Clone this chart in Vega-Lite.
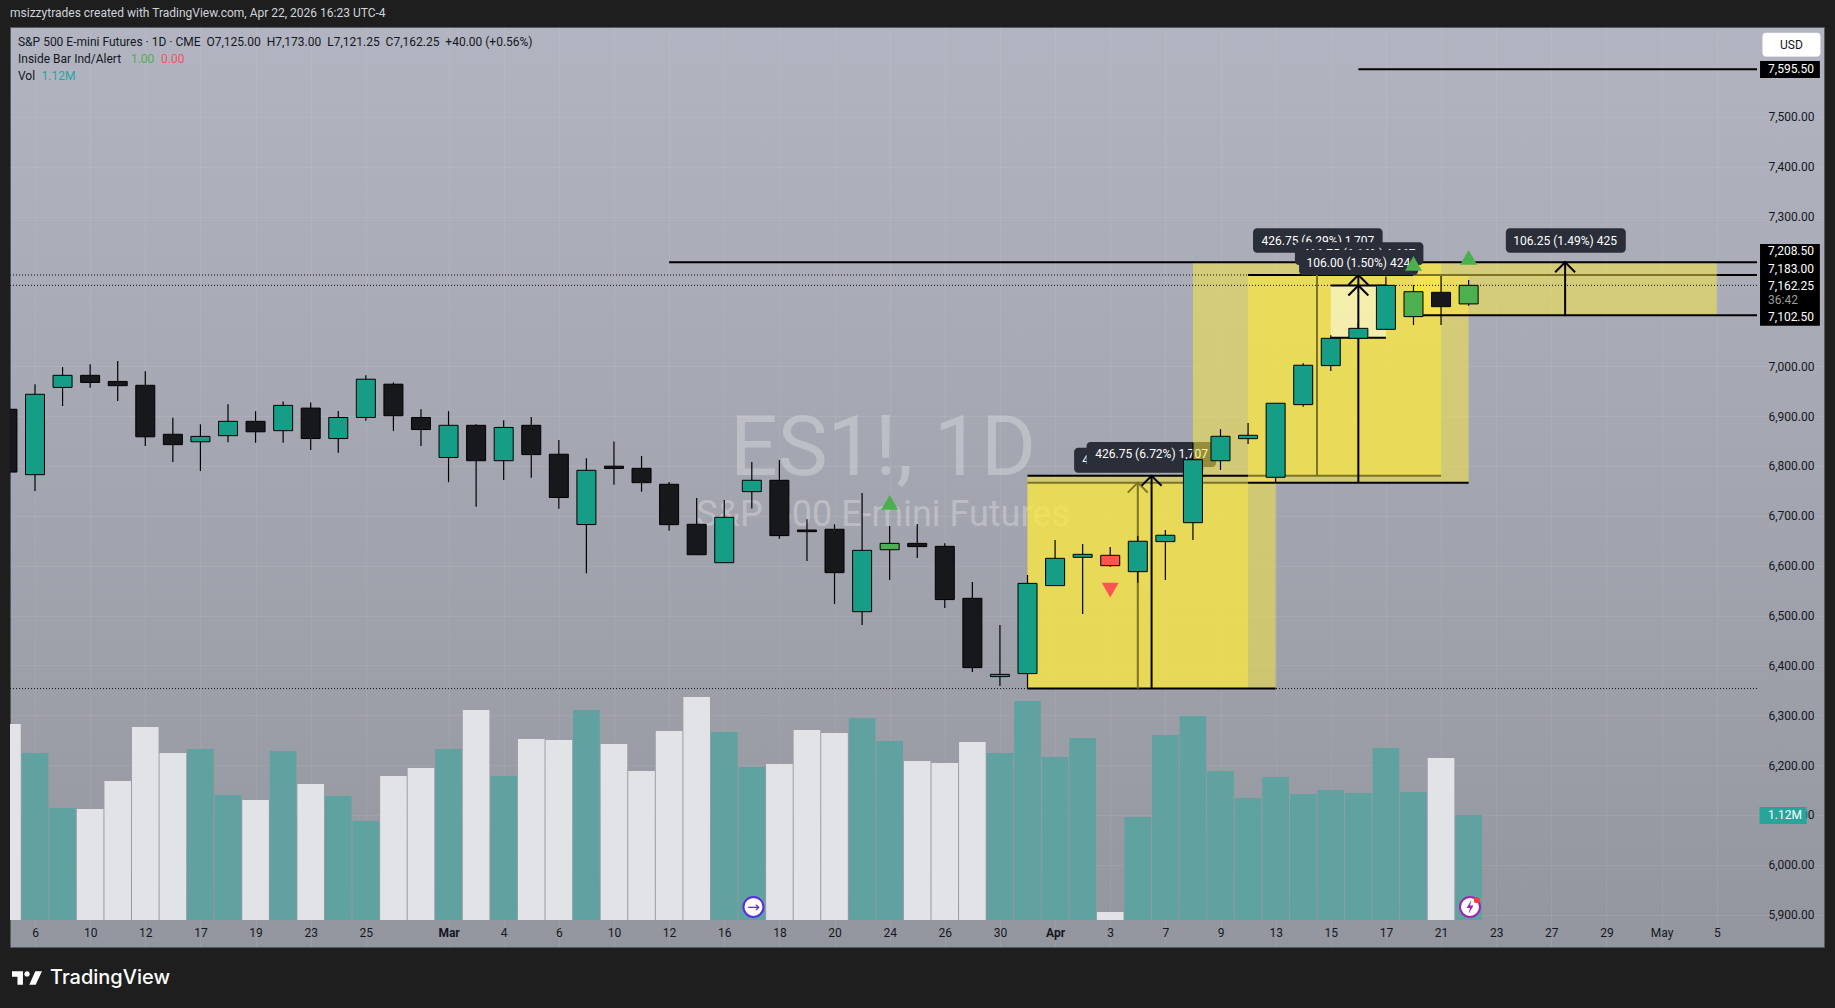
{
  "$schema": "https://vega.github.io/schema/vega-lite/v6.json",
  "description": "S&P 500 E-mini Futures daily candles with volume and measure boxes",
  "width": 1814,
  "height": 920,
  "autosize": {"type": "none"},
  "padding": {"left": 10, "top": 27, "right": 11, "bottom": 61},
  "background": "#1e1e1e",
  "title": {"text": "msizzytrades created with TradingView.com, Apr 22, 2026 16:23 UTC-4", "anchor": "start", "frame": "group", "offset": 7, "fontSize": 12, "font": "Roboto", "fontWeight": "normal", "color": "#d1d4dc"},
  "config": {
    "font": "Roboto",
    "view": {"stroke": "#5a5a5e", "fill": {"gradient": "linear", "x1": 0, "y1": 0, "x2": 0, "y2": 1, "stops": [{"offset": 0, "color": "#b2b5c1"}, {"offset": 1, "color": "#94969f"}]}},
    "text": {"fontSize": 12, "font": "Roboto"}
  },
  "datasets": {
    "bars": [
      {"d": "Feb 5", "i": -1, "o": 6913.75, "h": 6913.75, "l": 6787.75, "c": 6787.75, "tone": "down", "vol": 1.747},
      {"d": "Feb 6", "i": 0, "o": 6782.5, "h": 6964, "l": 6749.75, "c": 6943.75, "tone": "up", "vol": 1.547},
      {"d": "Feb 9", "i": 1, "o": 6957.5, "h": 6998.25, "l": 6920.25, "c": 6981.75, "tone": "up", "vol": 1.168},
      {"d": "Feb 10", "i": 2, "o": 6981.75, "h": 7004, "l": 6956.75, "c": 6967.5, "tone": "down", "vol": 1.161},
      {"d": "Feb 11", "i": 3, "o": 6969.5, "h": 7010.5, "l": 6930.25, "c": 6961, "tone": "down", "vol": 1.354},
      {"d": "Feb 12", "i": 4, "o": 6961.75, "h": 6989.75, "l": 6840, "c": 6858.5, "tone": "down", "vol": 1.727},
      {"d": "Feb 13", "i": 5, "o": 6863.5, "h": 6896.5, "l": 6807.75, "c": 6842.75, "tone": "down", "vol": 1.547},
      {"d": "Feb 17", "i": 6, "o": 6848.5, "h": 6883.5, "l": 6789.75, "c": 6859.25, "tone": "up", "vol": 1.575},
      {"d": "Feb 18", "i": 7, "o": 6860.75, "h": 6923.75, "l": 6847.75, "c": 6889.5, "tone": "up", "vol": 1.258},
      {"d": "Feb 19", "i": 8, "o": 6889.5, "h": 6910, "l": 6846.5, "c": 6868.5, "tone": "down", "vol": 1.223},
      {"d": "Feb 20", "i": 9, "o": 6870.75, "h": 6929.5, "l": 6846.5, "c": 6921.5, "tone": "up", "vol": 1.561},
      {"d": "Feb 23", "i": 10, "o": 6916, "h": 6927.25, "l": 6832, "c": 6855, "tone": "down", "vol": 1.333},
      {"d": "Feb 24", "i": 11, "o": 6855, "h": 6910, "l": 6826.25, "c": 6897.25, "tone": "up", "vol": 1.251},
      {"d": "Feb 25", "i": 12, "o": 6897.25, "h": 6981.75, "l": 6890.75, "c": 6974, "tone": "up", "vol": 1.078},
      {"d": "Feb 26", "i": 13, "o": 6964, "h": 6967.5, "l": 6870, "c": 6900.75, "tone": "down", "vol": 1.389},
      {"d": "Feb 27", "i": 14, "o": 6897.25, "h": 6913.75, "l": 6840, "c": 6873, "tone": "down", "vol": 1.444},
      {"d": "Mar 2", "i": 15, "o": 6817, "h": 6910, "l": 6767.5, "c": 6881.5, "tone": "up", "vol": 1.575},
      {"d": "Mar 3", "i": 16, "o": 6881.5, "h": 6883.5, "l": 6718.25, "c": 6810.5, "tone": "down", "vol": 1.844},
      {"d": "Mar 4", "i": 17, "o": 6810.5, "h": 6891.5, "l": 6772, "c": 6877.25, "tone": "up", "vol": 1.389},
      {"d": "Mar 5", "i": 18, "o": 6881.5, "h": 6898, "l": 6776.25, "c": 6822.75, "tone": "down", "vol": 1.644},
      {"d": "Mar 6", "i": 19, "o": 6823.5, "h": 6852, "l": 6714, "c": 6736.75, "tone": "down", "vol": 1.637},
      {"d": "Mar 9", "i": 20, "o": 6682.5, "h": 6815.5, "l": 6585, "c": 6791.25, "tone": "up", "vol": 1.844},
      {"d": "Mar 10", "i": 21, "o": 6799.5, "h": 6849.25, "l": 6762.25, "c": 6795, "tone": "down", "vol": 1.609},
      {"d": "Mar 11", "i": 22, "o": 6795.25, "h": 6820, "l": 6748.5, "c": 6766.5, "tone": "down", "vol": 1.423},
      {"d": "Mar 12", "i": 23, "o": 6763.25, "h": 6768, "l": 6670.25, "c": 6682.25, "tone": "down", "vol": 1.699},
      {"d": "Mar 13", "i": 24, "o": 6683, "h": 6735.75, "l": 6622, "c": 6622, "tone": "down", "vol": 1.934},
      {"d": "Mar 16", "i": 25, "o": 6606, "h": 6731.75, "l": 6606, "c": 6697, "tone": "up", "vol": 1.692},
      {"d": "Mar 17", "i": 26, "o": 6748.5, "h": 6808, "l": 6714.5, "c": 6771.25, "tone": "up", "vol": 1.451},
      {"d": "Mar 18", "i": 27, "o": 6771.25, "h": 6812, "l": 6654.25, "c": 6660.25, "tone": "down", "vol": 1.471},
      {"d": "Mar 19", "i": 28, "o": 6671.5, "h": 6693, "l": 6609.5, "c": 6668.25, "tone": "down", "vol": 1.706},
      {"d": "Mar 20", "i": 29, "o": 6673, "h": 6683, "l": 6523.25, "c": 6586, "tone": "down", "vol": 1.685},
      {"d": "Mar 23", "i": 30, "o": 6507.75, "h": 6745.75, "l": 6481, "c": 6630.75, "tone": "up", "vol": 1.789},
      {"d": "Mar 24", "i": 31, "o": 6632, "h": 6679.5, "l": 6571.25, "c": 6644.75, "tone": "insideUp", "vol": 1.63},
      {"d": "Mar 25", "i": 32, "o": 6644.75, "h": 6683.5, "l": 6615.5, "c": 6638.25, "tone": "down", "vol": 1.492},
      {"d": "Mar 26", "i": 33, "o": 6638.75, "h": 6644.75, "l": 6515.25, "c": 6532, "tone": "down", "vol": 1.478},
      {"d": "Mar 27", "i": 34, "o": 6534.5, "h": 6567.25, "l": 6386.75, "c": 6395.5, "tone": "down", "vol": 1.623},
      {"d": "Mar 30", "i": 35, "o": 6377.5, "h": 6481, "l": 6358.75, "c": 6382, "tone": "up", "vol": 1.547},
      {"d": "Mar 31", "i": 36, "o": 6383.5, "h": 6581.25, "l": 6353.5, "c": 6564.5, "tone": "up", "vol": 1.906},
      {"d": "Apr 1", "i": 37, "o": 6560, "h": 6651.5, "l": 6560, "c": 6614.75, "tone": "up", "vol": 1.52},
      {"d": "Apr 2", "i": 38, "o": 6616.75, "h": 6643.5, "l": 6503, "c": 6622.75, "tone": "up", "vol": 1.651},
      {"d": "Apr 3", "i": 39, "o": 6620.75, "h": 6637.5, "l": 6598, "c": 6600, "tone": "insideDown", "vol": 0.45},
      {"d": "Apr 6", "i": 40, "o": 6588, "h": 6659.5, "l": 6566, "c": 6649, "tone": "up", "vol": 1.106},
      {"d": "Apr 7", "i": 41, "o": 6648.25, "h": 6671.5, "l": 6571.25, "c": 6661, "tone": "up", "vol": 1.672},
      {"d": "Apr 8", "i": 42, "o": 6686.25, "h": 6846.75, "l": 6651.5, "c": 6812.5, "tone": "up", "vol": 1.803},
      {"d": "Apr 9", "i": 43, "o": 6810.5, "h": 6874, "l": 6792, "c": 6859.5, "tone": "up", "vol": 1.423},
      {"d": "Apr 10", "i": 44, "o": 6854.75, "h": 6886.25, "l": 6844, "c": 6861.5, "tone": "up", "vol": 1.237},
      {"d": "Apr 13", "i": 45, "o": 6777.25, "h": 6925.75, "l": 6766.5, "c": 6925.75, "tone": "up", "vol": 1.382},
      {"d": "Apr 14", "i": 46, "o": 6923, "h": 7006, "l": 6919, "c": 7002, "tone": "up", "vol": 1.264},
      {"d": "Apr 15", "i": 47, "o": 7001.25, "h": 7062, "l": 6990.5, "c": 7056, "tone": "up", "vol": 1.292},
      {"d": "Apr 16", "i": 48, "o": 7056, "h": 7086, "l": 7052.75, "c": 7076, "tone": "up", "vol": 1.271},
      {"d": "Apr 17", "i": 49, "o": 7074, "h": 7179.75, "l": 7074, "c": 7162.25, "tone": "up", "vol": 1.582},
      {"d": "Apr 20", "i": 50, "o": 7099.5, "h": 7163, "l": 7082.75, "c": 7149.5, "tone": "insideUp", "vol": 1.278},
      {"d": "Apr 21", "i": 51, "o": 7148.25, "h": 7181, "l": 7082.75, "c": 7119.5, "tone": "down", "vol": 1.513},
      {"d": "Apr 22", "i": 52, "o": 7125, "h": 7173, "l": 7121.25, "c": 7162.25, "tone": "insideUp", "vol": 1.12}
    ],
    "fills": [
      {"box": "A", "i": 36, "i2": 44, "p": 6353.5, "p2": 6766.5},
      {"box": "B", "i": 36, "i2": 45, "p": 6353.5, "p2": 6780.25},
      {"box": "C", "i": 42, "i2": 51, "p": 6780.25, "p2": 7208.5},
      {"box": "D", "i": 44, "i2": 52, "p": 6766.5, "p2": 7183},
      {"box": "F", "i": 50, "i2": 61, "p": 7102.5, "p2": 7208.5}
    ],
    "hlines": [
      {"i": 36, "i2": 44, "p": 6766.5, "state": "under"},
      {"i": 36, "i2": 44, "p": 6780.25, "state": "over"},
      {"i": 44, "i2": 51, "p": 6780.25, "state": "under"},
      {"i": 36, "i2": 45, "p": 6353.5, "state": "over"},
      {"i": 44, "i2": 52, "p": 6766.5, "state": "over"},
      {"i": 44, "i2": 50, "p": 7183, "state": "over"},
      {"i": 50, "i2": 61, "p": 7183, "state": "under"},
      {"i": 61, "i2": 62.46, "p": 7183, "state": "over"},
      {"i": 50, "i2": 62.46, "p": 7102.5, "state": "over"},
      {"i": 23, "i2": 62.46, "p": 7208.5, "state": "over"},
      {"i": 48, "i2": 62.46, "p": 7595.5, "state": "over"},
      {"i": 47, "i2": 49, "p": 7162, "state": "over"},
      {"i": 47, "i2": 49, "p": 7057, "state": "over"}
    ],
    "vlines": [
      {"i": 40, "p": 6353.5, "p2": 6766.5, "state": "under"},
      {"i": 40.5, "p": 6353.5, "p2": 6780.25, "state": "over"},
      {"i": 46.5, "p": 6780.25, "p2": 7208.5, "state": "under"},
      {"i": 48, "p": 6766.5, "p2": 7183, "state": "over"},
      {"i": 55.5, "p": 7102.5, "p2": 7208.5, "state": "over"}
    ],
    "tips": [
      {"i": 40, "p": 6766.5, "state": "under"},
      {"i": 40.5, "p": 6780.25, "state": "over"},
      {"i": 46.5, "p": 7208.5, "state": "under"},
      {"i": 48, "p": 7183, "state": "over"},
      {"i": 48, "p": 7162, "state": "over"},
      {"i": 55.5, "p": 7208.5, "state": "over"}
    ],
    "dotted": [
      {"i": -0.907, "i2": 62.46, "p": 7183},
      {"i": -0.907, "i2": 62.46, "p": 7162.25},
      {"i": -0.907, "i2": 62.46, "p": 6353.5}
    ],
    "signals": [
      {"i": 31, "p": 6727, "tone": "buy"},
      {"i": 39, "p": 6551, "tone": "sell"},
      {"i": 50, "p": 7206.5, "tone": "buy"},
      {"i": 52, "p": 7218.5, "tone": "buy"}
    ],
    "low_tags": [
      {"id": "A", "i": 37.69, "i2": 42.38, "p": 6786.5, "p2": 6836.75, "x": 40.03, "y": 6811.5, "label": "426.75 (6.72%) 1,707"},
      {"id": "B", "i": 38.14, "i2": 42.84, "p": 6798, "p2": 6848, "x": 40.5, "y": 6823, "label": "426.75 (6.72%) 1,707"}
    ],
    "high_tags": [
      {"id": "C", "i": 44.18, "i2": 48.88, "p": 7227.75, "p2": 7276.75, "x": 46.53, "y": 7252, "label": "426.75 (6.29%) 1,707"},
      {"id": "F", "i": 53.35, "i2": 57.7, "p": 7227.75, "p2": 7276.75, "x": 55.5, "y": 7252, "label": "106.25 (1.49%) 425"},
      {"id": "D", "i": 45.7, "i2": 50.36, "p": 7203, "p2": 7248.5, "x": 48.03, "y": 7226, "label": "416.75 (6.16%) 1,667"},
      {"id": "E", "i": 45.85, "i2": 50.17, "p": 7183, "p2": 7233, "x": 48, "y": 7208, "label": "106.00 (1.50%) 424"}
    ],
    "axis_tags": [
      {"i": 62.57, "i2": 64.74, "p": 7578, "p2": 7612, "kind": "price"},
      {"i": 62.57, "i2": 64.74, "p": 7081, "p2": 7245, "kind": "price"},
      {"i": 62.55, "i2": 64.26, "p": 6082, "p2": 6116, "kind": "vol"}
    ],
    "texts": [
      {"i": -0.617, "p": 7651, "label": "S&P 500 E-mini Futures · 1D · CME\u00a0\u00a0O7,125.00\u00a0\u00a0H7,173.00\u00a0\u00a0L7,121.25\u00a0\u00a0C7,162.25\u00a0\u00a0+40.00 (+0.56%)", "tone": "ink"},
      {"i": -0.617, "p": 7617, "label": "Inside Bar Ind/Alert", "tone": "ink"},
      {"i": 3.48, "p": 7617, "label": "1.00", "tone": "green"},
      {"i": 4.57, "p": 7617, "label": "0.00", "tone": "red"},
      {"i": -0.617, "p": 7583, "label": "Vol", "tone": "ink"},
      {"i": 0.236, "p": 7583, "label": "1.12M", "tone": "teal"},
      {"i": 62.86, "p": 7595.5, "label": "7,595.50", "tone": "white"},
      {"i": 62.86, "p": 7230.5, "label": "7,208.50", "tone": "white"},
      {"i": 62.86, "p": 7195.75, "label": "7,183.00", "tone": "white"},
      {"i": 62.86, "p": 7161, "label": "7,162.25", "tone": "white"},
      {"i": 62.86, "p": 7133.5, "label": "36:42", "tone": "muted"},
      {"i": 62.86, "p": 7099.5, "label": "7,102.50", "tone": "white"},
      {"i": 62.86, "p": 6099, "label": "1.12M", "tone": "white"}
    ]
  },
  "encoding": {
    "x": {
      "field": "i",
      "type": "quantitative",
      "title": null,
      "scale": {"domain": [-0.907, 64.89], "nice": false, "zero": false, "padding": 0},
      "axis": {
        "orient": "bottom",
        "offset": -27,
        "domain": false,
        "ticks": false,
        "grid": true,
        "gridColor": "#ffffff",
        "gridOpacity": 0.07,
        "labelPadding": 7,
        "labelFontSize": 12,
        "labelColor": "#131722",
        "labelFontWeight": {"condition": {"test": "datum.value === 15 || datum.value === 37", "value": "bold"}, "value": "normal"},
        "labelOverlap": false,
        "labelFlush": false,
        "labelBound": false,
        "values": [0, 2, 4, 6, 8, 10, 12, 15, 17, 19, 21, 23, 25, 27, 29, 31, 33, 35, 37, 39, 41, 43, 45, 47, 49, 51, 53, 55, 57, 59, 61],
        "labelExpr": "{0:'6',2:'10',4:'12',6:'17',8:'19',10:'23',12:'25',15:'Mar',17:'4',19:'6',21:'10',23:'12',25:'16',27:'18',29:'20',31:'24',33:'26',35:'30',37:'Apr',39:'3',41:'7',43:'9',45:'13',47:'15',49:'17',51:'21',53:'23',55:'27',57:'29',59:'May',61:'5'}[datum.value]"
      }
    }
  },
  "resolve": {"scale": {"y": "independent", "color": "independent"}},
  "layer": [
    {
      "data": {"name": "bars"},
      "mark": {"type": "bar", "size": 26.6, "clip": true, "orient": "vertical"},
      "encoding": {
        "y": {"field": "vol", "type": "quantitative", "title": null, "axis": null, "scale": {"domain": [0.2087, 6.5567], "nice": false, "zero": false}},
        "y2": {"datum": 0.395},
        "color": {
          "condition": {"test": "datum.tone === 'down' || datum.tone === 'insideDown'", "value": "#e2e3e6"},
          "value": "#5fa2a0"
        }
      }
    },
    {
      "resolve": {"scale": {"color": "independent"}},
      "layer": [
        {
          "data": {"values": [{"i": 30.76, "p": 6832, "label": "ES1!, 1D"}]},
          "mark": {"type": "text", "fontSize": 84, "color": "#ffffff", "opacity": 0.27},
          "encoding": {
            "y": {
              "field": "p",
              "type": "quantitative",
              "title": null,
              "scale": {"domain": [5835.2, 7680.4], "nice": false, "zero": false},
              "axis": {
                "orient": "right",
                "offset": -67,
                "domain": false,
                "ticks": false,
                "grid": true,
                "gridColor": "#ffffff",
                "gridOpacity": 0.07,
                "labelPadding": 11,
                "labelFontSize": 12,
                "labelColor": "#131722",
                "labelOverlap": false,
                "labelBound": false,
                "values": [5900, 6000, 6100, 6200, 6300, 6400, 6500, 6600, 6700, 6800, 6900, 7000, 7300, 7400, 7500],
                "format": ",.2f"
              }
            },
            "text": {"field": "label"}
          }
        },
        {
          "data": {"values": [{"i": 30.76, "p": 6701.5, "label": "S&P 500 E-mini Futures"}]},
          "mark": {"type": "text", "fontSize": 36, "color": "#ffffff", "opacity": 0.27},
          "encoding": {"y": {"field": "p", "type": "quantitative"}, "text": {"field": "label"}}
        },
        {
          "data": {"name": "low_tags"},
          "transform": [{"filter": "datum.id === 'A'"}],
          "mark": {"type": "rect", "color": "#2a2e39", "cornerRadius": 4},
          "encoding": {"x2": {"field": "i2"}, "y": {"field": "p", "type": "quantitative"}, "y2": {"field": "p2"}}
        },
        {
          "data": {"name": "low_tags"},
          "transform": [{"filter": "datum.id === 'A'"}],
          "mark": {"type": "text", "color": "#ffffff"},
          "encoding": {"x": {"field": "x", "type": "quantitative"}, "y": {"field": "y", "type": "quantitative"}, "text": {"field": "label"}}
        },
        {
          "data": {"name": "low_tags"},
          "transform": [{"filter": "datum.id === 'B'"}],
          "mark": {"type": "rect", "color": "#2a2e39", "cornerRadius": 4},
          "encoding": {"x2": {"field": "i2"}, "y": {"field": "p", "type": "quantitative"}, "y2": {"field": "p2"}}
        },
        {
          "data": {"name": "low_tags"},
          "transform": [{"filter": "datum.id === 'B'"}],
          "mark": {"type": "text", "color": "#ffffff"},
          "encoding": {"x": {"field": "x", "type": "quantitative"}, "y": {"field": "y", "type": "quantitative"}, "text": {"field": "label"}}
        },
        {
          "data": {"name": "fills"},
          "mark": {"type": "rect", "color": "#ffeb3b", "opacity": 0.5},
          "encoding": {"x2": {"field": "i2"}, "y": {"field": "p", "type": "quantitative"}, "y2": {"field": "p2"}}
        },
        {
          "data": {"values": [{"i": 47, "i2": 49, "p": 7057, "p2": 7162}]},
          "mark": {"type": "rect", "color": "#ffffff", "opacity": 0.5},
          "encoding": {"x2": {"field": "i2"}, "y": {"field": "p", "type": "quantitative"}, "y2": {"field": "p2"}}
        },
        {
          "data": {"name": "dotted"},
          "mark": {"type": "rule", "color": "#111111", "strokeWidth": 1, "strokeDash": [1, 2]},
          "encoding": {"x2": {"field": "i2"}, "y": {"field": "p", "type": "quantitative"}}
        },
        {
          "data": {"name": "hlines"},
          "mark": {"type": "rule", "strokeWidth": 2},
          "encoding": {
            "x2": {"field": "i2"},
            "y": {"field": "p", "type": "quantitative"},
            "color": {"field": "state", "type": "nominal", "legend": null, "scale": {"domain": ["over", "under"], "range": ["#000000", "#7d7326"]}}
          }
        },
        {
          "data": {"name": "vlines"},
          "mark": {"type": "rule", "strokeWidth": 2},
          "encoding": {
            "y": {"field": "p", "type": "quantitative"},
            "y2": {"field": "p2"},
            "color": {"field": "state", "type": "nominal", "legend": null, "scale": {"domain": ["over", "under"], "range": ["#000000", "#7d7326"]}}
          }
        },
        {
          "data": {"name": "tips"},
          "mark": {"type": "point", "shape": "M-1,1L0,0L1,1", "size": 400, "filled": false, "strokeWidth": 2, "opacity": 1},
          "encoding": {
            "y": {"field": "p", "type": "quantitative"},
            "color": {"field": "state", "type": "nominal", "legend": null, "scale": {"domain": ["over", "under"], "range": ["#000000", "#7d7326"]}}
          }
        },
        {
          "data": {"name": "bars"},
          "mark": {"type": "rule", "color": "#000000", "strokeWidth": 1.2, "clip": true},
          "encoding": {"y": {"field": "h", "type": "quantitative"}, "y2": {"field": "l"}}
        },
        {
          "data": {"name": "bars"},
          "mark": {"type": "bar", "size": 19, "stroke": "#000000", "strokeWidth": 1, "clip": true, "orient": "vertical"},
          "encoding": {
            "y": {"field": "o", "type": "quantitative"},
            "y2": {"field": "c"},
            "color": {"field": "tone", "type": "nominal", "legend": null, "scale": {"domain": ["up", "down", "insideUp", "insideDown"], "range": ["#169d85", "#17181c", "#4caf50", "#ff5252"]}}
          }
        },
        {
          "data": {"name": "high_tags"},
          "transform": [{"filter": "datum.id === 'C' || datum.id === 'F'"}],
          "mark": {"type": "rect", "color": "#2a2e39", "cornerRadius": 4},
          "encoding": {"x2": {"field": "i2"}, "y": {"field": "p", "type": "quantitative"}, "y2": {"field": "p2"}}
        },
        {
          "data": {"name": "high_tags"},
          "transform": [{"filter": "datum.id === 'C' || datum.id === 'F'"}],
          "mark": {"type": "text", "color": "#ffffff"},
          "encoding": {"x": {"field": "x", "type": "quantitative"}, "y": {"field": "y", "type": "quantitative"}, "text": {"field": "label"}}
        },
        {
          "data": {"name": "high_tags"},
          "transform": [{"filter": "datum.id === 'D'"}],
          "mark": {"type": "rect", "color": "#2a2e39", "cornerRadius": 4},
          "encoding": {"x2": {"field": "i2"}, "y": {"field": "p", "type": "quantitative"}, "y2": {"field": "p2"}}
        },
        {
          "data": {"name": "high_tags"},
          "transform": [{"filter": "datum.id === 'D'"}],
          "mark": {"type": "text", "color": "#ffffff"},
          "encoding": {"x": {"field": "x", "type": "quantitative"}, "y": {"field": "y", "type": "quantitative"}, "text": {"field": "label"}}
        },
        {
          "data": {"name": "high_tags"},
          "transform": [{"filter": "datum.id === 'E'"}],
          "mark": {"type": "rect", "color": "#2a2e39", "cornerRadius": 4},
          "encoding": {"x2": {"field": "i2"}, "y": {"field": "p", "type": "quantitative"}, "y2": {"field": "p2"}}
        },
        {
          "data": {"name": "high_tags"},
          "transform": [{"filter": "datum.id === 'E'"}],
          "mark": {"type": "text", "color": "#ffffff"},
          "encoding": {"x": {"field": "x", "type": "quantitative"}, "y": {"field": "y", "type": "quantitative"}, "text": {"field": "label"}}
        },
        {
          "data": {"name": "signals"},
          "transform": [{"filter": "datum.tone === 'buy'"}],
          "mark": {"type": "point", "shape": "triangle-up", "size": 290, "filled": true, "color": "#4caf50", "opacity": 1},
          "encoding": {"y": {"field": "p", "type": "quantitative"}}
        },
        {
          "data": {"name": "signals"},
          "transform": [{"filter": "datum.tone === 'sell'"}],
          "mark": {"type": "point", "shape": "triangle-down", "size": 290, "filled": true, "color": "#ff5252", "opacity": 1},
          "encoding": {"y": {"field": "p", "type": "quantitative"}}
        },
        {
          "data": {"values": [{"i": 26.06, "p": 5915.5, "event": "split"}]},
          "mark": {"type": "point", "shape": "circle", "size": 400, "filled": true, "fill": "#ffffff", "stroke": "#5b2de0", "strokeWidth": 2, "opacity": 1},
          "encoding": {"y": {"field": "p", "type": "quantitative"}}
        },
        {
          "data": {"values": [{"i": 26.06, "p": 5915.5, "label": "→"}]},
          "mark": {"type": "text", "fontSize": 15, "font": "DejaVu Sans", "color": "#5b2de0"},
          "encoding": {"y": {"field": "p", "type": "quantitative"}, "text": {"field": "label"}}
        },
        {
          "data": {"values": [{"i": 52.05, "p": 5915.5, "event": "earnings"}]},
          "mark": {"type": "point", "shape": "circle", "size": 400, "filled": true, "fill": "#ffffff", "stroke": "#9c27b0", "strokeWidth": 2, "opacity": 1},
          "encoding": {"y": {"field": "p", "type": "quantitative"}}
        },
        {
          "data": {"values": [{"i": 52.05, "p": 5915.5, "event": "bolt"}]},
          "mark": {"type": "point", "shape": "M.2,-1L-.5,.15H0L-.2,1L.5,-.2H0Z", "size": 196, "filled": true, "color": "#9c27b0", "opacity": 1},
          "encoding": {"y": {"field": "p", "type": "quantitative"}}
        },
        {
          "data": {"values": [{"i": 52.3, "p": 5929, "event": "dot"}]},
          "mark": {"type": "point", "shape": "circle", "size": 36, "filled": true, "color": "#ff3b3b", "opacity": 1},
          "encoding": {"y": {"field": "p", "type": "quantitative"}}
        },
        {
          "data": {"values": [{"i": 62.64, "i2": 64.78, "p": 7620, "p2": 7670}]},
          "mark": {"type": "rect", "color": "#ffffff", "cornerRadius": 4, "stroke": "#b0b3bd"},
          "encoding": {"x2": {"field": "i2"}, "y": {"field": "p", "type": "quantitative"}, "y2": {"field": "p2"}}
        },
        {
          "data": {"values": [{"i": 63.71, "p": 7645, "label": "USD"}]},
          "mark": {"type": "text", "color": "#131722", "fontSize": 12},
          "encoding": {"y": {"field": "p", "type": "quantitative"}, "text": {"field": "label"}}
        },
        {
          "data": {"name": "axis_tags"},
          "mark": {"type": "rect"},
          "encoding": {
            "x2": {"field": "i2"},
            "y": {"field": "p", "type": "quantitative"},
            "y2": {"field": "p2"},
            "color": {"field": "kind", "type": "nominal", "legend": null, "scale": {"domain": ["price", "vol"], "range": ["#000000", "#26a69a"]}}
          }
        },
        {
          "data": {"name": "texts"},
          "mark": {"type": "text", "align": "left", "fontSize": 12},
          "encoding": {
            "y": {"field": "p", "type": "quantitative"},
            "text": {"field": "label"},
            "color": {"field": "tone", "type": "nominal", "legend": null, "scale": {"domain": ["ink", "green", "red", "teal", "white", "muted"], "range": ["#131722", "#4caf50", "#f7525f", "#26a69a", "#ffffff", "#9b9b9b"]}}
          }
        },
        {
          "data": {"values": [{"i": -0.29, "p": 5773, "brand": "logo"}]},
          "mark": {"type": "point", "shape": "M-1,-.455H-.273V.455H-.636V-.091H-1ZM.576,.455H.152L.552,-.455H1ZM-.18,-.273a.18,.18 0 1,0 .36,0a.18,.18 0 1,0 -.36,0Z", "size": 900, "filled": true, "color": "#ffffff", "opacity": 1},
          "encoding": {"y": {"field": "p", "type": "quantitative"}}
        },
        {
          "data": {"values": [{"i": 0.544, "p": 5773, "label": "TradingView"}]},
          "mark": {"type": "text", "align": "left", "font": "Inter", "fontWeight": 500, "fontSize": 20, "color": "#ffffff"},
          "encoding": {"y": {"field": "p", "type": "quantitative"}, "text": {"field": "label"}}
        }
      ]
    }
  ]
}
